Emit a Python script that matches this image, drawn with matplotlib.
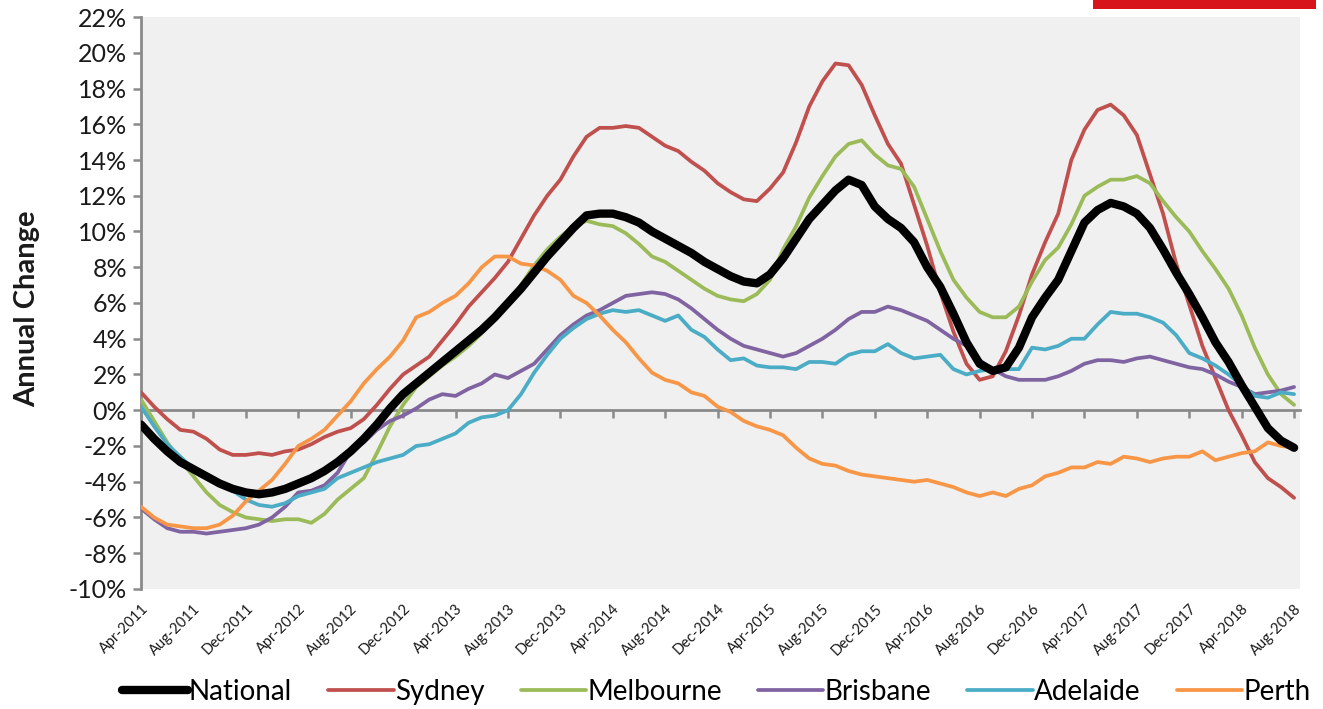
import matplotlib
matplotlib.use("Agg")
import matplotlib.pyplot as plt
import matplotlib.patches as mpatches
import pandas as pd
import numpy as np

plt.rcParams['font.family'] = ['Lato', 'DejaVu Sans']

months = pd.date_range('2011-04-01', periods=89, freq='MS').strftime('%b-%Y').tolist()

national = [-0.8, -1.6, -2.3, -2.9,
            -3.3, -3.7, -4.1, -4.4,
            -4.6, -4.7, -4.6, -4.4,
            -4.1, -3.8, -3.4, -2.9,
            -2.3, -1.6, -0.8, 0.1,
            0.9, 1.5, 2.1, 2.7,
            3.3, 3.9, 4.5, 5.2,
            6.0, 6.8, 7.7, 8.6,
            9.4, 10.2, 10.9, 11.0,
            11.0, 10.8, 10.5, 10.0,
            9.6, 9.2, 8.8, 8.3,
            7.9, 7.5, 7.2, 7.1,
            7.6, 8.5, 9.6, 10.7,
            11.5, 12.3, 12.9, 12.6,
            11.4, 10.7, 10.2, 9.4,
            8.0, 6.9, 5.4, 3.8,
            2.6, 2.2, 2.4, 3.5,
            5.2, 6.3, 7.3, 8.9,
            10.5, 11.2, 11.6, 11.4,
            11.0, 10.2, 9.0, 7.7,
            6.5, 5.2, 3.8, 2.7,
            1.4, 0.2, -1.0, -1.7,
            -2.1]

sydney = [1.0, 0.2, -0.5, -1.1,
          -1.2, -1.6, -2.2, -2.5,
          -2.5, -2.4, -2.5, -2.3,
          -2.2, -1.9, -1.5, -1.2,
          -1.0, -0.5, 0.3, 1.2,
          2.0, 2.5, 3.0, 3.9,
          4.8, 5.8, 6.6, 7.4,
          8.3, 9.6, 10.9, 12.0,
          12.9, 14.2, 15.3, 15.8,
          15.8, 15.9, 15.8, 15.3,
          14.8, 14.5, 13.9, 13.4,
          12.7, 12.2, 11.8, 11.7,
          12.4, 13.3, 15.0, 17.0,
          18.4, 19.4, 19.3, 18.2,
          16.5, 14.9, 13.8, 11.5,
          9.2, 6.6, 4.4, 2.6,
          1.7, 1.9, 3.3, 5.3,
          7.6, 9.4, 11.0, 14.0,
          15.7, 16.8, 17.1, 16.5,
          15.4, 13.2, 11.0, 8.2,
          5.9, 3.6, 1.8, 0.0,
          -1.4, -2.9, -3.8, -4.3,
          -4.9]

melbourne = [0.6, -0.6, -1.8, -2.8,
             -3.7, -4.6, -5.3, -5.7,
             -6.0, -6.1, -6.2, -6.1,
             -6.1, -6.3, -5.8, -5.0,
             -4.4, -3.8, -2.4, -0.9,
             0.3, 1.3, 1.9, 2.5,
             3.0, 3.6, 4.3, 5.3,
             6.0, 7.0, 8.1, 9.0,
             9.7, 10.3, 10.6, 10.4,
             10.3, 9.9, 9.3, 8.6,
             8.3, 7.8, 7.3, 6.8,
             6.4, 6.2, 6.1, 6.5,
             7.3, 9.0, 10.3, 11.9,
             13.1, 14.2, 14.9, 15.1,
             14.3, 13.7, 13.5, 12.5,
             10.7, 8.9, 7.3, 6.3,
             5.5, 5.2, 5.2, 5.8,
             7.2, 8.4, 9.1, 10.4,
             12.0, 12.5, 12.9, 12.9,
             13.1, 12.7, 11.7, 10.8,
             10.0, 8.9, 7.9, 6.8,
             5.3, 3.5, 2.0, 0.9,
             0.3]

brisbane = [-5.5, -6.1, -6.6, -6.8,
            -6.8, -6.9, -6.8, -6.7,
            -6.6, -6.4, -6.0, -5.4,
            -4.6, -4.5, -4.2, -3.5,
            -2.3, -1.8, -1.1, -0.6,
            -0.3, 0.1, 0.6, 0.9,
            0.8, 1.2, 1.5, 2.0,
            1.8, 2.2, 2.6, 3.4,
            4.2, 4.8, 5.3, 5.6,
            6.0, 6.4, 6.5, 6.6,
            6.5, 6.2, 5.7, 5.1,
            4.5, 4.0, 3.6, 3.4,
            3.2, 3.0, 3.2, 3.6,
            4.0, 4.5, 5.1, 5.5,
            5.5, 5.8, 5.6, 5.3,
            5.0, 4.5, 4.0, 3.6,
            2.8, 2.3, 1.9, 1.7,
            1.7, 1.7, 1.9, 2.2,
            2.6, 2.8, 2.8, 2.7,
            2.9, 3.0, 2.8, 2.6,
            2.4, 2.3, 2.0, 1.6,
            1.3, 0.9, 1.0, 1.1,
            1.3]

adelaide = [0.2, -0.9, -1.9, -2.6,
            -3.3, -3.8, -4.0, -4.5,
            -5.0, -5.3, -5.4, -5.2,
            -4.8, -4.6, -4.4, -3.8,
            -3.5, -3.2, -2.9, -2.7,
            -2.5, -2.0, -1.9, -1.6,
            -1.3, -0.7, -0.4, -0.3,
            0.0, 0.9, 2.1, 3.1,
            4.0, 4.6, 5.1, 5.4,
            5.6, 5.5, 5.6, 5.3,
            5.0, 5.3, 4.5, 4.1,
            3.4, 2.8, 2.9, 2.5,
            2.4, 2.4, 2.3, 2.7,
            2.7, 2.6, 3.1, 3.3,
            3.3, 3.7, 3.2, 2.9,
            3.0, 3.1, 2.3, 2.0,
            2.2, 2.3, 2.3, 2.3,
            3.5, 3.4, 3.6, 4.0,
            4.0, 4.8, 5.5, 5.4,
            5.4, 5.2, 4.9, 4.2,
            3.2, 2.9, 2.5, 2.0,
            1.4, 0.8, 0.7, 1.0,
            0.9]

perth = [-5.4, -6.0, -6.4, -6.5,
         -6.6, -6.6, -6.4, -5.9,
         -5.1, -4.5, -3.9, -3.0,
         -2.0, -1.6, -1.1, -0.3,
         0.5, 1.5, 2.3, 3.0,
         3.9, 5.2, 5.5, 6.0,
         6.4, 7.1, 8.0, 8.6,
         8.6, 8.2, 8.1, 7.8,
         7.3, 6.4, 6.0, 5.3,
         4.5, 3.8, 2.9, 2.1,
         1.7, 1.5, 1.0, 0.8,
         0.2, -0.1, -0.6, -0.9,
         -1.1, -1.4, -2.1, -2.7,
         -3.0, -3.1, -3.4, -3.6,
         -3.7, -3.8, -3.9, -4.0,
         -3.9, -4.1, -4.3, -4.6,
         -4.8, -4.6, -4.8, -4.4,
         -4.2, -3.7, -3.5, -3.2,
         -3.2, -2.9, -3.0, -2.6,
         -2.7, -2.9, -2.7, -2.6,
         -2.6, -2.3, -2.8, -2.6,
         -2.4, -2.3, -1.8, -2.0,
         -2.1]

series_names = ['National', 'Sydney', 'Melbourne', 'Brisbane', 'Adelaide', 'Perth']
series_values = [national, sydney, melbourne, brisbane, adelaide, perth]
series_colors = ['#000000', '#C0504D', '#9BBB59', '#8064A2', '#4BACC6', '#F79646']
series_widths = [6.0, 2.7, 2.7, 2.7, 2.7, 2.7]

y_ticks = list(range(-10, 23, 2))
tick_step = 4

fig = plt.figure(figsize=(13.23, 7.09), dpi=100)
ax = fig.add_axes([0.1066, 0.1693, 0.8760, 0.8067])
ax.set_facecolor('#F0F0F0')

x = np.arange(len(months))
order = [1, 2, 3, 4, 5, 0]
for k in order:
    ax.plot(x, series_values[k], color=series_colors[k], lw=series_widths[k],
            solid_capstyle='round', solid_joinstyle='round',
            label=series_names[k], zorder=3 + (k == 0))

ax.set_xlim(0, len(months) - 1 + 0.45)
ax.set_ylim(-10, 22)
ax.set_yticks(y_ticks)
ax.set_yticklabels([f'{t}%' for t in y_ticks], fontsize=18, color='#1a1a1a')
ax.set_ylabel('Annual Change', fontsize=21, fontweight='bold', color='#1a1a1a')
ax.yaxis.set_label_coords(-0.087, 0.49)

for s in ['top', 'right', 'bottom']:
    ax.spines[s].set_visible(False)
ax.spines['left'].set_color('#8a8a8a')
ax.spines['left'].set_linewidth(2)
ax.tick_params(axis='y', direction='out', length=6, width=1.8, color='#8a8a8a', pad=4)

xt = x[::tick_step]
ax.set_xticks(xt)
ax.set_xticklabels([months[i] for i in xt], rotation=45, ha='right', va='top',
                   rotation_mode='anchor', fontsize=10.5, color='#1a1a1a')
ax.tick_params(axis='x', length=0, pad=9)

# zero-line axis with tick marks
zero_pos = (0 - (-10)) / (22 - (-10))
sec = ax.secondary_xaxis(zero_pos)
sec.set_xticks(xt)
sec.set_xticklabels([])
sec.spines['bottom'].set_color('#8a8a8a')
sec.spines['bottom'].set_linewidth(2)
sec.tick_params(axis='x', direction='out', length=6, width=1.8, color='#8a8a8a')

# legend
handles, labels = ax.get_legend_handles_labels()
hmap = dict(zip(labels, handles))
leg = fig.legend([hmap[n] for n in series_names], series_names, loc='center',
                 bbox_to_anchor=(0.5416, 0.024), ncol=6, frameon=False,
                 fontsize=20, handlelength=2.35, columnspacing=1.3, handletextpad=0.05,
                 borderpad=0.1)

# red header bar (cut-off logo at top right)
fig.patches.append(mpatches.Rectangle((1093 / 1323, 1 - 9 / 709), (1316 - 1093) / 1323, 9 / 709,
                                      transform=fig.transFigure, facecolor='#D7141A',
                                      edgecolor='none', zorder=5))

fig.savefig('out.png', dpi=100, facecolor='white')
